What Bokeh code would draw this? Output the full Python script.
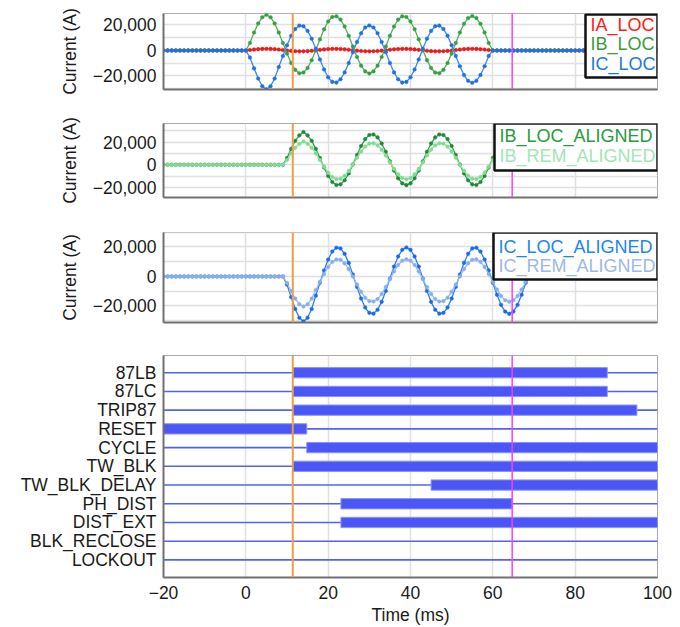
from bokeh.plotting import figure
from bokeh.layouts import column
from bokeh.models import (Range1d, FixedTicker, Span, BoxAnnotation, Label,
                          CustomJSTickFormatter, ColumnDataSource)
from bokeh.embed import file_html
from bokeh.resources import INLINE

# ---------------- data ----------------
time_ms = list(range(-20, 101))          # sample instants (ms)

# panel 1: local phase currents, fault from t=0 to t=60 (values in A)
ia_fault = [0, 360, 730, 1030, 1230, 1300, 1230, 1030, 730, 360, -10,
            -340, -580, -690, -670, -510, -240, 110, 490, 840, 1110,
            1270, 1290, 1180, 940, 610, 240, -130, -430, -630, -700,
            -630, -430, -130, 240, 610, 940, 1180, 1290, 1270, 1110,
            840, 490, 110, -240, -510, -670, -690, -580, -340, -10,
            360, 730, 1030, 1230, 1300, 1230, 1030, 730, 360, 0]
ib_fault = [0, 5900, 14100, 21200, 26000, 28000, 26000, 21200, 14100, 5900, -2450,
            -9800, -15200, -17800, -17300, -13700, -7600, 300, 8700, 16600, 22700,
            26300, 26800, 24200, 18800, 11500, 3100, -5100, -11900, -16400, -18000,
            -16400, -11900, -5100, 3100, 11500, 18800, 24200, 26800, 26300, 22700,
            16600, 8700, 300, -7600, -13700, -17300, -17800, -15200, -9800, -2450,
            5900, 14100, 20900, 25400, 27000, 25400, 20900, 14100, 5900, 0]
ic_fault = [0, -5500, -14000, -22000, -28000, -30500, -28000, -22000, -13000, -4300, 4100,
            11500, 16900, 19500, 19000, 15350, 9200, 1350, -7050, -14900, -21050,
            -24650, -25200, -22550, -17200, -9800, -1400, 6700, 13550, 18050, 19650,
            18050, 13550, 6700, -1400, -9800, -17200, -22550, -25200, -24650, -21050,
            -14900, -7050, 1350, 9200, 15350, 19000, 19500, 16900, 11500, 4100,
            -4270, -12400, -19250, -23800, -25350, -23800, -19250, -12400, -4270, 0]

# panel 2/3: aligned local and remote currents, disturbance from t=9 to t=69
ib_loc_al_fault = [0, 5900, 14100, 21200, 26000, 29000, 26000, 21200, 14100, 5900, -2450,
                   -9800, -15200, -17800, -17300, -13700, -7600, 300, 8700, 16600, 22700,
                   26300, 26800, 24200, 18800, 11500, 3100, -5100, -11900, -16400, -18000,
                   -16400, -11900, -5100, 3100, 11500, 18800, 24200, 26800, 26300, 22700,
                   16600, 8700, 300, -7600, -13700, -17300, -17800, -15200, -9800, -2450,
                   5900, 14100, 20900, 25400, 27000, 25400, 20900, 14100, 5900, 0]
ib_rem_al_fault = [0, 4200, 10000, 15100, 18500, 20600, 18500, 15100, 10000, 4200, -1700,
                   -7000, -10800, -12600, -12300, -9700, -5400, 200, 6200, 11800, 16100,
                   18700, 19000, 17200, 13300, 8200, 2200, -3600, -8400, -11600, -12800,
                   -11600, -8400, -3600, 2200, 8200, 13300, 17200, 19000, 18700, 16100,
                   11800, 6200, 200, -5400, -9700, -12300, -12600, -10800, -7000, -1700,
                   4200, 10000, 14800, 18000, 19200, 18000, 14800, 10000, 4200, 0]
ic_loc_al_fault = [0, -5500, -14000, -22000, -28000, -30500, -28000, -22000, -13000, -4300, 4100,
                   11500, 16900, 19500, 19000, 15350, 9200, 1350, -7050, -14900, -21050,
                   -24650, -25200, -22550, -17200, -9800, -1400, 6700, 13550, 18050, 19650,
                   18050, 13550, 6700, -1400, -9800, -17200, -22550, -25200, -24650, -21050,
                   -14900, -7050, 1350, 9200, 15350, 19000, 19500, 16900, 11500, 4100,
                   -4270, -12400, -19250, -23800, -25350, -23800, -19250, -12400, -4270, 0]
ic_rem_al_fault = [0, -4400, -9900, -15000, -18800, -20400, -18800, -15000, -9200, -3650, 1700,
                   6500, 9900, 11600, 11300, 8900, 5000, 0, -5400, -10400, -14400,
                   -16700, -17000, -15300, -11900, -7200, -1800, 3400, 7800, 10700, 11700,
                   10700, 7800, 3400, -1800, -7200, -11900, -15300, -17000, -16700, -14400,
                   -10400, -5400, 0, 5000, 8900, 11300, 11600, 9900, 6500, 1700,
                   -3600, -8800, -13200, -16100, -17100, -16100, -13200, -8800, -3600, 0]

ia_loc = [0] * 20 + ia_fault + [0] * 40
ib_loc = [0] * 20 + ib_fault + [0] * 40
ic_loc = [0] * 20 + ic_fault + [0] * 40
ib_loc_aligned = [0] * 29 + ib_loc_al_fault + [0] * 31
ib_rem_aligned = [0] * 29 + ib_rem_al_fault + [0] * 31
ic_loc_aligned = [0] * 29 + ic_loc_al_fault + [0] * 31
ic_rem_aligned = [0] * 29 + ic_rem_al_fault + [0] * 31

# digital channels
channels = ["87LB", "87LC", "TRIP87", "RESET", "CYCLE", "TW_BLK", "TW_BLK_DELAY",
            "PH_DIST", "DIST_EXT", "BLK_RECLOSE", "LOCKOUT"]
bar_channel = ["87LB", "87LC", "TRIP87", "RESET", "CYCLE", "TW_BLK", "TW_BLK_DELAY",
               "PH_DIST", "DIST_EXT"]
bar_start = [11.4, 11.4, 11.4, -20.0, 14.8, 11.4, 45.0, 23.1, 23.1]
bar_end = [87.8, 87.8, 95.0, 14.8, 100.0, 100.0, 100.0, 64.7, 100.0]

cursor_times = [11.4, 64.7]
x_ticks = [-20, 0, 20, 40, 60, 80, 100]

# ---------------- styling helpers ----------------
FONT = "Liberation Sans"
FS = "17.5px"
FL, FR = 163, 657
MINUS = "\u2212"


def fmt():
    return CustomJSTickFormatter(code="""
        const s = Math.abs(tick).toLocaleString('en-US');
        return tick < 0 ? '%s' + s : s;
    """ % MINUS)


def style(p):
    p.outline_line_color = "#a8a8a8"
    p.outline_line_width = 1
    p.background_fill_color = "white"
    p.border_fill_color = "white"
    for ax in p.axis:
        ax.axis_line_color = "#707070"
        ax.axis_line_width = 2
        ax.major_tick_line_color = None
        ax.minor_tick_line_color = None
        ax.major_tick_out = 0
        ax.major_tick_in = 0
        ax.major_label_text_font = FONT
        ax.major_label_text_font_size = FS
        ax.major_label_text_color = "#1a1a1a"
        ax.major_label_standoff = 7
        ax.axis_label_text_font = FONT
        ax.axis_label_text_font_size = FS
        ax.axis_label_text_font_style = "normal"
        ax.axis_label_text_color = "#1a1a1a"
    p.xgrid.ticker = FixedTicker(ticks=x_ticks)
    p.xgrid.grid_line_color = "#e0e0e0"
    p.xgrid.grid_line_width = 1.5
    p.ygrid.grid_line_color = "#e0e0e0"
    p.ygrid.grid_line_width = 1.5


def current_fig(height, top, bottom, yr):
    p = figure(width=680, height=height, x_range=Range1d(-20, 100),
               y_range=Range1d(*yr), output_backend="svg", toolbar_location=None,
               min_border_left=163, min_border_right=680 - FR,
               min_border_top=top, min_border_bottom=bottom)
    style(p)
    p.yaxis.ticker = FixedTicker(ticks=[-20000, 0, 20000])
    p.ygrid.ticker = FixedTicker(ticks=[-30000, -20000, -10000, 0, 10000, 20000, 30000])
    p.yaxis.formatter = fmt()
    p.yaxis.axis_label = "Current (A)"
    p.yaxis.axis_label_standoff = 10
    p.xaxis.ticker = FixedTicker(ticks=[])
    p.xaxis.major_label_standoff = 0
    return p


def draw(p, y, line_color, dot_color):
    src = ColumnDataSource(dict(t=time_ms, y=y))
    p.line("t", "y", source=src, line_color=line_color, line_width=1.3)
    p.scatter("t", "y", source=src, size=3.6, fill_color=dot_color,
              line_color=dot_color, line_width=0.5)


def add_cursors(p):
    p.add_layout(Span(location=cursor_times[0], dimension="height",
                      line_color="#f29a45", line_width=2))
    p.add_layout(Span(location=cursor_times[1], dimension="height",
                      line_color="#ff3cff", line_width=1.5))


def add_legend(p, frame, box_px, entries):
    ft, fb, y0, y1 = frame

    def X(px):
        return -20 + (px - FL) * 120.0 / (FR - FL)

    def Y(py):
        return y1 - (py - ft) * (y1 - y0) / (fb - ft)

    l, r, t, b = box_px
    p.add_layout(BoxAnnotation(left=X(l), right=X(r), top=Y(t), bottom=Y(b),
                               fill_color="white", fill_alpha=1.0,
                               line_color="#111111", line_alpha=1.0,
                               line_width=2.5))
    for text, color, lx, ly in entries:
        p.add_layout(Label(x=X(lx), y=Y(ly), text=text, text_color=color,
                           text_font=FONT, text_font_size="18px",
                           text_baseline="middle"))


# ---------------- panel 1 ----------------
f1 = (13, 89, -30600, 29000)
p1 = current_fig(106, 13, 17, (f1[2], f1[3]))
draw(p1, ia_loc, "#ee3a3a", "#e41c1c")
draw(p1, ib_loc, "#52b05c", "#34a043")
draw(p1, ic_loc, "#3d88ee", "#1f70e2")
add_cursors(p1)
add_legend(p1, f1, (585, FR, 14, 77),
           [("IA_LOC", "#ff1a1a", 590, 24), ("IB_LOC", "#3d9a3d", 590, 43.5),
            ("IC_LOC", "#1f7ad4", 590, 63)])

# ---------------- panel 2 ----------------
f2 = (123, 197, -28900, 36500)
p2 = current_fig(109, 17, 18, (f2[2], f2[3]))
draw(p2, ib_loc_aligned, "#2f9d4a", "#21883a")
draw(p2, ib_rem_aligned, "#90e2a0", "#80da92")
add_cursors(p2)
add_legend(p2, f2, (494, FR, 123, 170),
           [("IB_LOC_ALIGNED", "#2a9a3a", 499, 135),
            ("IB_REM_ALIGNED", "#a2e6b4", 499, 155.5)])

# ---------------- panel 3 ----------------
f3 = (232, 322, -31200, 29800)
p3 = current_fig(125, 17, 18, (f3[2], f3[3]))
draw(p3, ic_loc_aligned, "#2b7ff2", "#1a6ae8")
draw(p3, ic_rem_aligned, "#96baf0", "#86aeee")
add_cursors(p3)
add_legend(p3, f3, (493, FR, 232, 279),
           [("IC_LOC_ALIGNED", "#1a88f0", 498, 246.5),
            ("IC_REM_ALIGNED", "#9cb9e6", 498, 265.5)])

# ---------------- panel 4 (digital) ----------------
p4 = figure(width=680, height=287, x_range=Range1d(-20, 100),
            y_range=Range1d(-0.94, 10.92), output_backend="svg",
            toolbar_location=None, min_border_left=163, min_border_right=680 - FR,
            min_border_top=15, min_border_bottom=48)
style(p4)
row_of = {name: len(channels) - 1 - i for i, name in enumerate(channels)}
p4.ygrid.grid_line_color = None
p4.yaxis.ticker = FixedTicker(ticks=[row_of[c] for c in channels])
p4.yaxis.major_label_overrides = {row_of[c]: c for c in channels}
p4.xaxis.ticker = FixedTicker(ticks=x_ticks)
p4.xaxis.formatter = fmt()
p4.xaxis.axis_label = "Time (ms)"
p4.xaxis.major_label_standoff = 8
p4.xaxis.axis_label_standoff = 3

line_src = ColumnDataSource(dict(
    x0=[time_ms[0]] * len(channels), x1=[time_ms[-1]] * len(channels),
    y=[row_of[c] for c in channels]))
p4.segment(x0="x0", x1="x1", y0="y", y1="y", source=line_src,
           line_color="#5560f5", line_width=1.6)
bar_src = ColumnDataSource(dict(y=[row_of[c] for c in bar_channel],
                                left=bar_start, right=bar_end))
p4.hbar(y="y", left="left", right="right", height=0.55, source=bar_src,
        fill_color="#4a56f6", line_color="#8d94f8", line_width=1)
add_cursors(p4)

layout = column(p1, p2, p3, p4, spacing=0)
open("out.html", "w").write(file_html(layout, INLINE))
